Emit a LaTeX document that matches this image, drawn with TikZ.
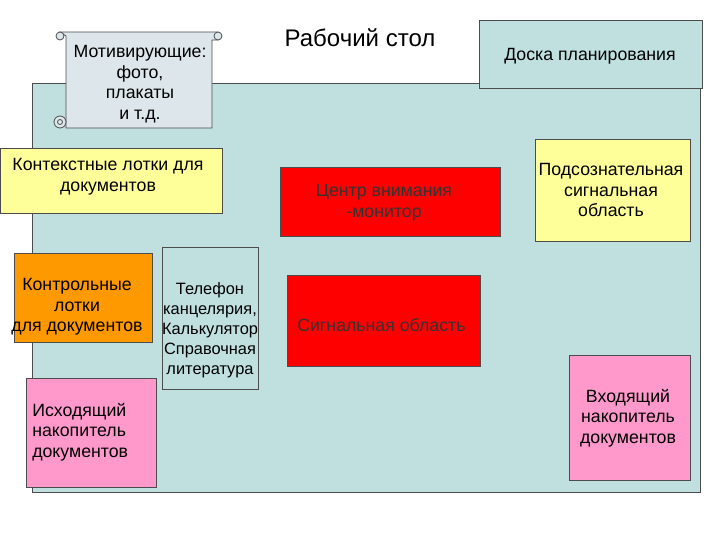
\documentclass[tikz,border=0pt]{standalone}
\usepackage{fontspec}
\setmainfont{Liberation Sans}
\definecolor{board}{HTML}{C0E0E0}
\definecolor{yel}{HTML}{FFFF99}
\definecolor{pnk}{HTML}{FF99CC}
\definecolor{org}{HTML}{FF9900}
\definecolor{scr}{HTML}{DDE6EA}
\begin{document}
\begin{tikzpicture}[x=0.75pt,y=-0.75pt,
  box/.style={draw=black!70,line width=0.6pt},
  lbl/.style={font=\fontsize{13.3}{15.5}\selectfont,align=center,inner sep=0pt}]
\useasboundingbox (0,0) rectangle (720,540);
\draw[box,fill=board] (32,83) rectangle (700,492);
% scroll
\draw[box,fill=scr] (66,36) -- (66,128) -- (212,128) -- (212,40) -- (218,40) -- (218,32) -- (60,32) -- cycle;
\draw[box,fill=scr] (218,36) circle (4);
\draw[box,fill=scr] (60,36) circle (4);
\draw[box,fill=scr] (60,122) circle (6);
\draw[box] (60,122) circle (2.5);
\node[lbl] (mot) at (140,84) {Мотивирующие:\\фото,\\плакаты\\и т.д.};
\node[lbl,font=\fontsize{18}{20}\selectfont] (title) at (360,38) {Рабочий стол};
\draw[box,fill=board] (479,20) rectangle (702,88);
\node[lbl] (plan) at (590,56) {Доска планирования};
\draw[box,fill=yel] (0,148) rectangle (222,213);
\node[lbl] (ctx) at (108,177) {Контекстные лотки для\\документов};
\draw[box,fill=red] (280,167) rectangle (500,236);
\node[lbl,text=black!80] (mon) at (384,203) {Центр внимания\\-монитор};
\draw[box,fill=yel] (535,139) rectangle (690,241);
\node[lbl] (sub) at (611,190) {Подсознательная\\сигнальная\\область};
\draw[box,fill=org] (14,253) rectangle (152,342);
\node[lbl] (ctrl) at (77,307) {Контрольные\\лотки\\для документов};
\draw[box,fill=board] (162,247) rectangle (258,389);
\node[lbl,font=\fontsize{12.3}{15}\selectfont] (tel) at (210,330) {Телефон\\канцелярия,\\Калькулятор\\Справочная\\литература};
\draw[box,fill=red] (287,275) rectangle (480,366);
\node[lbl,anchor=west,text=black!80] (sig) at (297,325) {Сигнальная область};
\draw[box,fill=pnk] (26,378) rectangle (156,487);
\node[lbl,align=left,anchor=west] (out) at (32,432) {Исходящий\\накопитель\\документов};
\draw[box,fill=pnk] (569,355) rectangle (690,480);
\node[lbl] (in) at (628,418) {Входящий\\накопитель\\документов};
\end{tikzpicture}
\end{document}
